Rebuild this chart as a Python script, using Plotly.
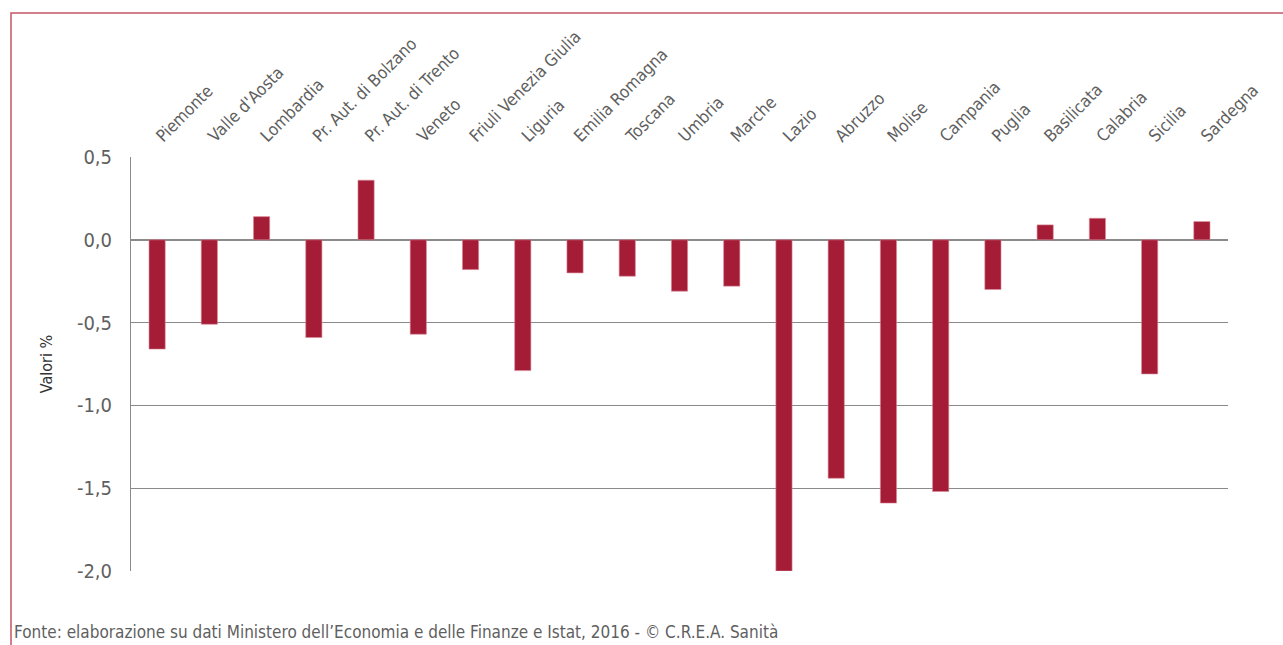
import plotly.graph_objects as go

# Regioni e valori (%)
regioni = [
    "Piemonte", "Valle d'Aosta", "Lombardia", "Pr. Aut. di Bolzano", "Pr. Aut. di Trento",
    "Veneto", "Friuli Venezia Giulia", "Liguria", "Emilia Romagna", "Toscana", "Umbria",
    "Marche", "Lazio", "Abruzzo", "Molise", "Campania", "Puglia", "Basilicata",
    "Calabria", "Sicilia", "Sardegna",
]
valori = [
    -0.66, -0.51, 0.14, -0.59, 0.36,
    -0.57, -0.18, -0.79, -0.20, -0.22, -0.31,
    -0.28, -2.00, -1.44, -1.59, -1.52, -0.30, 0.09,
    0.13, -0.81, 0.11,
]
y_ticks = [0.5, 0.0, -0.5, -1.0, -1.5, -2.0]
y_labels = [f"{v:.1f}".replace(".", ",") for v in y_ticks]
fonte = "Fonte: elaborazione su dati Ministero dell\u2019Economia e delle Finanze e Istat, 2016 - \u00a9 C.R.E.A. Sanità"

FONT = "DejaVu Sans Condensed, Liberation Sans Narrow, sans-serif"
GRIGIO = "#5f5f5f"

W, H = 1283, 645
L, R, T, B = 131, 55, 157, 74
pw, ph = W - L - R, H - T - B

fig = go.Figure()
fig.add_trace(go.Bar(
    x=regioni,
    y=valori,
    width=0.31,
    marker=dict(color="#a51c36", line=dict(color="#d88a99", width=0.6)),
    hovertemplate="%{x}: %{y:.2f}<extra></extra>",
))

# cornice rossa
fig.add_shape(
    type="rect", xref="paper", yref="paper", layer="below",
    x0=(11 - L) / pw, x1=(W + 20 - L) / pw,
    y0=-(H + 20 - T - ph) / ph, y1=1 + (T - 13) / ph,
    line=dict(color="#c45466", width=1.5),
)

fig.add_annotation(
    text=fonte, xref="paper", yref="paper",
    x=(12 - L) / pw, y=-(632 - T - ph) / ph,
    xanchor="left", yanchor="middle", showarrow=False,
    font=dict(family=FONT, size=17, color=GRIGIO),
)

fig.update_layout(
    width=W, height=H,
    margin=dict(l=L, r=R, t=T, b=B),
    paper_bgcolor="white", plot_bgcolor="white",
    showlegend=False,
    font=dict(family=FONT, size=16, color=GRIGIO),
)
fig.update_xaxes(
    side="top", tickangle=-45, showgrid=False, showline=False, ticks="",
    ticklabelstandoff=7,
    tickfont=dict(family=FONT, size=17, color=GRIGIO),
    range=[-0.5, len(regioni) - 0.5],
)
fig.update_yaxes(
    range=[-2.0, 0.5], tickvals=y_ticks, ticktext=y_labels,
    showgrid=True, gridcolor="#8a8a8a", gridwidth=1,
    zeroline=True, zerolinecolor="#8a8a8a", zerolinewidth=1.5,
    showline=True, linecolor="#8a8a8a", linewidth=1,
    ticks="", ticklabelstandoff=14,
    title=dict(text="Valori %", standoff=20, font=dict(family=FONT, size=16, color="#333333")),
    tickfont=dict(family=FONT, size=20, color=GRIGIO),
)

fig.write_html(
    "out.html",
    config={"displayModeBar": False},
    post_script="document.body.style.margin='0';",
)
